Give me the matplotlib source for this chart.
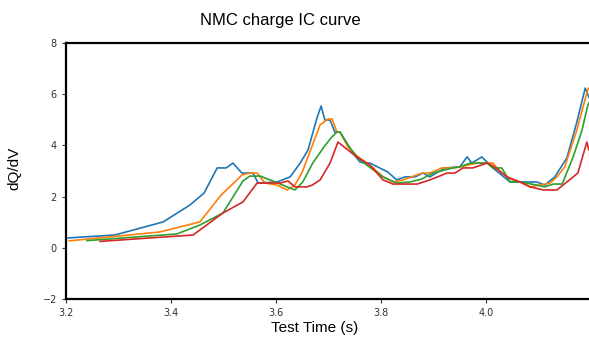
import matplotlib
matplotlib.use("Agg")
import matplotlib.pyplot as plt

# cell voltage (V) and incremental capacity dQ/dV for four cycles
v1 = [3.200, 3.293, 3.385, 3.436, 3.463, 3.488, 3.505, 3.518, 3.535, 3.556, 3.566, 3.602,
      3.627, 3.646, 3.661, 3.678, 3.686, 3.693, 3.703, 3.712, 3.722, 3.745, 3.760, 3.770,
      3.779, 3.813, 3.830, 3.846, 3.865, 3.880, 3.893, 3.922, 3.950, 3.964, 3.973, 3.992,
      4.004, 4.013, 4.046, 4.097, 4.112, 4.131, 4.154, 4.173, 4.189, 4.196, 4.210]
ic1 = [0.38, 0.50, 1.01, 1.67, 2.14, 3.12, 3.12, 3.31, 2.92, 2.92, 2.53, 2.57,
       2.77, 3.31, 3.82, 5.07, 5.54, 4.99, 4.99, 4.52, 4.52, 3.74, 3.35, 3.31,
       3.31, 2.96, 2.65, 2.77, 2.77, 2.92, 2.77, 3.12, 3.16, 3.55, 3.31, 3.55,
       3.31, 3.12, 2.57, 2.57, 2.45, 2.77, 3.51, 4.91, 6.24, 5.89, 5.20]

v2 = [3.206, 3.379, 3.455, 3.495, 3.535, 3.550, 3.564, 3.579, 3.602, 3.621, 3.636, 3.650,
      3.672, 3.684, 3.699, 3.707, 3.716, 3.722, 3.737, 3.754, 3.783, 3.804, 3.823, 3.842,
      3.878, 3.893, 3.916, 3.937, 3.950, 3.983, 4.013, 4.030, 4.050, 4.065, 4.084, 4.103,
      4.122, 4.135, 4.150, 4.173, 4.194, 4.210]
ic2 = [0.27, 0.62, 1.01, 2.05, 2.84, 2.92, 2.92, 2.53, 2.45, 2.26, 2.45, 2.96,
       4.15, 4.80, 5.03, 5.03, 4.52, 4.52, 3.94, 3.59, 3.16, 2.77, 2.57, 2.65,
       2.92, 2.92, 3.12, 3.12, 3.16, 3.31, 3.31, 2.92, 2.65, 2.57, 2.38, 2.45,
       2.53, 2.77, 3.16, 4.60, 6.20, 6.50]

v3 = [3.240, 3.411, 3.455, 3.499, 3.537, 3.550, 3.570, 3.594, 3.621, 3.636, 3.651, 3.670,
      3.690, 3.705, 3.716, 3.722, 3.737, 3.754, 3.773, 3.804, 3.830, 3.855, 3.878, 3.899,
      3.937, 3.950, 3.970, 4.002, 4.013, 4.030, 4.046, 4.065, 4.097, 4.112, 4.128, 4.145,
      4.166, 4.183, 4.194, 4.210]
ic3 = [0.28, 0.54, 0.89, 1.36, 2.61, 2.80, 2.80, 2.61, 2.38, 2.26, 2.57, 3.31,
       3.90, 4.30, 4.52, 4.52, 4.02, 3.55, 3.23, 2.77, 2.53, 2.57, 2.69, 2.92,
       3.12, 3.16, 3.31, 3.31, 3.12, 3.12, 2.57, 2.57, 2.45, 2.38, 2.49, 2.49,
       3.55, 4.60, 5.58, 6.20]

v4 = [3.265, 3.442, 3.499, 3.537, 3.564, 3.589, 3.608, 3.623, 3.636, 3.659, 3.669, 3.684,
      3.703, 3.718, 3.737, 3.754, 3.779, 3.804, 3.823, 3.869, 3.893, 3.926, 3.941, 3.956,
      3.975, 4.002, 4.013, 4.040, 4.065, 4.084, 4.109, 4.135, 4.154, 4.175, 4.192, 4.196,
      4.210]
ic4 = [0.25, 0.50, 1.36, 1.79, 2.53, 2.53, 2.53, 2.61, 2.38, 2.38, 2.45, 2.65,
       3.31, 4.13, 3.82, 3.55, 3.23, 2.65, 2.49, 2.49, 2.65, 2.92, 2.92, 3.12,
       3.12, 3.31, 3.20, 2.77, 2.57, 2.38, 2.26, 2.26, 2.57, 2.92, 4.13, 3.82,
       3.50]

series = [(v1, ic1, "#1f77b4"), (v2, ic2, "#ff7f0e"), (v3, ic3, "#2ca02c"), (v4, ic4, "#d62728")]

fig = plt.figure(figsize=(5.89, 3.42), dpi=100)
ax = fig.add_axes([66 / 589, 1 - 299 / 342, 525 / 589, 256 / 342])

for v, ic, c in series:
    ax.plot(v, ic, color=c, linewidth=1.2)

ax.set_xlim(3.2, 4.2)
ax.set_ylim(-2, 8)
ax.set_xticks([3.2, 3.4, 3.6, 3.8, 4.0])
ax.set_yticks([-2, 0, 2, 4, 6, 8])
ax.tick_params(labelsize=7, colors="#333333", length=3, width=0.8)

for s in ax.spines.values():
    s.set_linewidth(1.6)
    s.set_color("black")

ax.set_xlabel("Test Time (s)", fontsize=11, family="Liberation Sans")
ax.xaxis.set_label_coords(0.474, -0.085)
ax.set_ylabel("dQ/dV", fontsize=11, family="Liberation Sans")
ax.yaxis.set_label_coords(-0.085, 0.51)

fig.text(280 / 589, 1 - 20 / 342, "NMC charge IC curve", ha="center", va="center",
         fontsize=12, family="Liberation Sans")

fig.savefig("out.png", dpi=100)
